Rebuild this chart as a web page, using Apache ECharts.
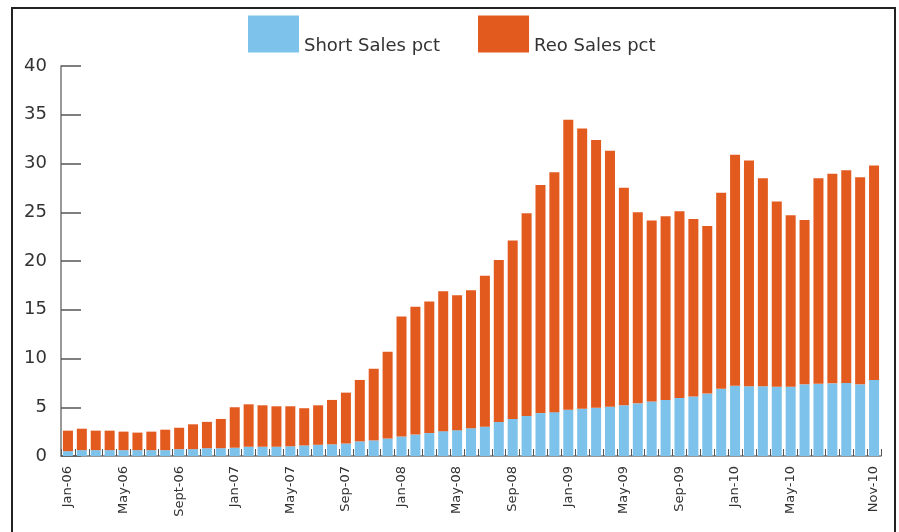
<!DOCTYPE html>
<html>
<head>
<meta charset="utf-8">
<title>Short Sales vs Reo Sales</title>
<script src="https://cdn.jsdelivr.net/npm/echarts@6/dist/echarts.min.js"></script>
<style>
  html, body { margin: 0; padding: 0; background: #fff; }
  #chart { width: 899px; height: 532px; }
</style>
</head>
<body>
<div id="chart"></div>
<script>
// months, Jan-06 .. Nov-10
const months = [
  'Jan-06', 'Feb-06', 'Mar-06', 'Apr-06', 'May-06', 'Jun-06', 'Jul-06', 'Aug-06', 'Sept-06', 'Oct-06', 'Nov-06', 'Dec-06',
  'Jan-07', 'Feb-07', 'Mar-07', 'Apr-07', 'May-07', 'Jun-07', 'Jul-07', 'Aug-07', 'Sep-07', 'Oct-07', 'Nov-07', 'Dec-07',
  'Jan-08', 'Feb-08', 'Mar-08', 'Apr-08', 'May-08', 'Jun-08', 'Jul-08', 'Aug-08', 'Sep-08', 'Oct-08', 'Nov-08', 'Dec-08',
  'Jan-09', 'Feb-09', 'Mar-09', 'Apr-09', 'May-09', 'Jun-09', 'Jul-09', 'Aug-09', 'Sep-09', 'Oct-09', 'Nov-09', 'Dec-09',
  'Jan-10', 'Feb-10', 'Mar-10', 'Apr-10', 'May-10', 'Jun-10', 'Jul-10', 'Aug-10', 'Sep-10', 'Oct-10', 'Nov-10'
]

const shortSales = [
  0.5, 0.6, 0.6, 0.6, 0.6, 0.6, 0.6, 0.6, 0.7, 0.7, 0.8, 0.8,
  0.85, 0.95, 0.95, 0.95, 1.0, 1.08, 1.15, 1.2, 1.28, 1.5, 1.6, 1.8,
  2.0, 2.2, 2.35, 2.55, 2.65, 2.85, 3.0, 3.5, 3.8, 4.1, 4.4, 4.5,
  4.75, 4.85, 4.95, 5.05, 5.2, 5.4, 5.6, 5.75, 5.95, 6.1, 6.4, 6.9,
  7.2, 7.15, 7.15, 7.1, 7.1, 7.35, 7.4, 7.45, 7.5, 7.35, 7.8
]

const reoSales = [
  2.1, 2.2, 2.0, 2.0, 1.9, 1.8, 1.9, 2.1, 2.2, 2.55, 2.7, 3.0,
  4.15, 4.35, 4.25, 4.15, 4.1, 3.82, 4.05, 4.55, 5.22, 6.3, 7.35, 8.9,
  12.3, 13.1, 13.5, 14.35, 13.85, 14.15, 15.5, 16.6, 18.3, 20.8, 23.4, 24.6,
  29.75, 28.75, 27.45, 26.25, 22.3, 19.6, 18.55, 18.85, 19.15, 18.2, 17.2, 20.1,
  23.7, 23.15, 21.35, 19.0, 17.6, 16.85, 21.1, 21.5, 21.8, 21.25, 22.0
]

const yTicks = { min: 0, max: 40, step: 5 }

const FONT = '"DejaVu Sans", "Noto Sans", sans-serif'

const chart = echarts.init(document.getElementById('chart'))

chart.setOption({
  backgroundColor: '#fff',
  animation: false,
  graphic: [{
    type: 'rect',
    shape: { x: 12, y: 8, width: 883, height: 540 },
    style: { fill: 'none', stroke: '#222', lineWidth: 2 },
    silent: true,
    z: -1
  }],
  legend: {
    left: 243,
    top: 5,
    icon: 'rect',
    itemWidth: 51,
    itemHeight: 37,
    itemGap: 38,
    // empty first line pushes the name below the swatch centre
    formatter: (name) => '\n' + name,
    textStyle: {
      fontFamily: FONT,
      fontSize: 18,
      lineHeight: 24,
      color: '#333'
    },
    data: ['Short Sales pct', 'Reo Sales pct']
  },
  grid: {
    left: 61,
    right: 18,
    top: 66,
    bottom: 76
  },
  xAxis: {
    type: 'category',
    data: months,
    axisLine: { lineStyle: { color: '#777', width: 1.5 } },
    axisTick: {
      show: true,
      inside: true,
      length: 7,
      interval: 0,
      lineStyle: { color: '#555' }
    },
    axisLabel: {
      rotate: 90,
      margin: 10,
      fontFamily: FONT,
      fontSize: 13,
      color: '#333',
      interval: (index) => index === 58 || (index % 4 === 0 && index !== 56)
    }
  },
  yAxis: {
    type: 'value',
    min: yTicks.min,
    max: yTicks.max,
    interval: yTicks.step,
    axisLine: { show: true, lineStyle: { color: '#777', width: 1.5 } },
    axisTick: {
      show: true,
      inside: true,
      length: 20,
      lineStyle: { color: '#555', width: 1.5 }
    },
    axisLabel: {
      margin: 14,
      fontFamily: FONT,
      fontSize: 18,
      color: '#333'
    },
    splitLine: { show: false }
  },
  series: [
    {
      name: 'Short Sales pct',
      type: 'bar',
      stack: 'sales',
      barWidth: '72%',
      itemStyle: { color: '#7dc2ea' },
      data: shortSales
    },
    {
      name: 'Reo Sales pct',
      type: 'bar',
      stack: 'sales',
      barWidth: '72%',
      itemStyle: { color: '#e35a1f' },
      data: reoSales
    }
  ]
})
</script>
</body>
</html>
